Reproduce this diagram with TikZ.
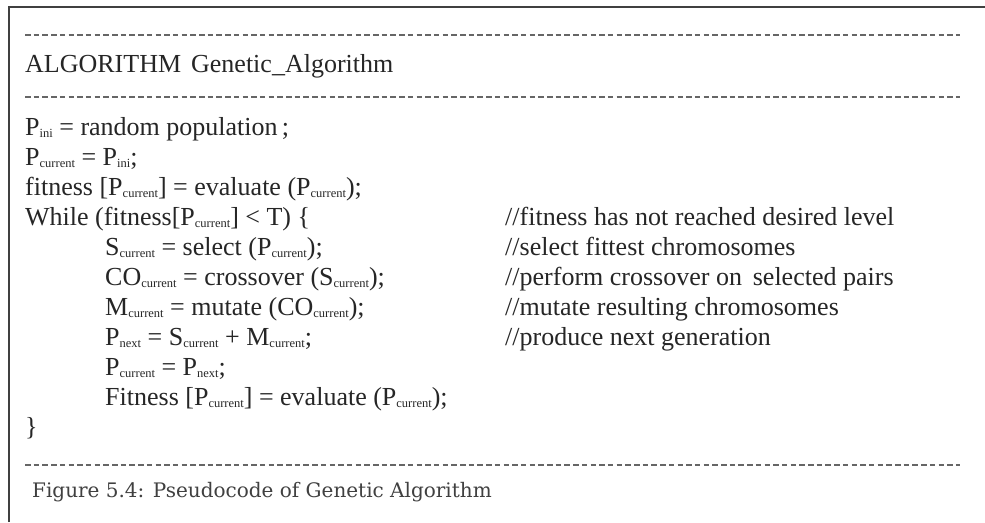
\documentclass[tikz,border=0pt]{standalone}
\usepackage{fontspec}
\setmainfont{Liberation Serif}
\newfontfamily\capfont{DejaVu Serif}
% small lowered index used in the pseudocode names
\newcommand\idx[1]{\raisebox{-2.5pt}{\fontsize{12.5}{12}\selectfont #1}}
\begin{document}
\begin{tikzpicture}[x=1pt,y=-1pt,
  code/.style={anchor=base west,inner sep=0pt,text=black!85,
    font=\fontsize{26}{30}\selectfont},
  rule/.style={draw=black!60,line width=2pt,dash pattern=on 5.5pt off 3.2pt},
  frame/.style={draw=black!75,line width=2pt}]
\useasboundingbox (0,0) rectangle (985,522);
\fill[white] (0,0) rectangle (985,522);
% open frame: left and top edges
\draw[frame] (8.5,522) -- (8.5,6.5) -- (985,6.5);
% dashed separators
\coordinate (r1a) at (25,35);  \coordinate (r1b) at (960,35);
\coordinate (r2a) at (25,97);  \coordinate (r2b) at (960,97);
\coordinate (r3a) at (25,465); \coordinate (r3b) at (960,465);
\draw[rule] (r1a) -- (r1b);
\draw[rule] (r2a) -- (r2b);
\draw[rule] (r3a) -- (r3b);
% header
\node[code] (title) at (25,72) {ALGORITHM\hspace{10pt}Genetic\_Algorithm};
% pseudocode body
\node[code] (l1) at (25,135) {P\idx{ini} = random population\,;};
\node[code] (l2) at (25,165) {P\idx{current} = P\idx{ini};};
\node[code] (l3) at (25,195) {fitness [P\idx{current}] = evaluate (P\idx{current});};
\node[code] (l4) at (25,225) {While (fitness[P\idx{current}] < T) \{};
\node[code] (l5) at (105,255) {S\idx{current} = select (P\idx{current});};
\node[code] (l6) at (105,285) {CO\idx{current} = crossover (S\idx{current});};
\node[code] (l7) at (105,315) {M\idx{current} = mutate (CO\idx{current});};
\node[code] (l8) at (105,345) {P\idx{next} = S\idx{current} + M\idx{current};};
\node[code] (l9) at (105,375) {P\idx{current} = P\idx{next};};
\node[code] (l10) at (105,405) {Fitness [P\idx{current}] = evaluate (P\idx{current});};
\node[code] (l11) at (25,435) {\}};
% comments
\node[code] (c4) at (505,225) {//fitness has not reached desired level};
\node[code] (c5) at (505,255) {//select fittest chromosomes};
\node[code] (c6) at (505,285) {//perform crossover on\, selected pairs};
\node[code] (c7) at (505,315) {//mutate resulting chromosomes};
\node[code] (c8) at (505,345) {//produce next generation};
% caption
\node[anchor=base west,inner sep=0pt,text=black!75,
  font=\capfont\fontsize{20}{22}\selectfont] (cap) at (32,497)
  {Figure 5.4: Pseudocode of Genetic Algorithm};
\end{tikzpicture}
\end{document}
